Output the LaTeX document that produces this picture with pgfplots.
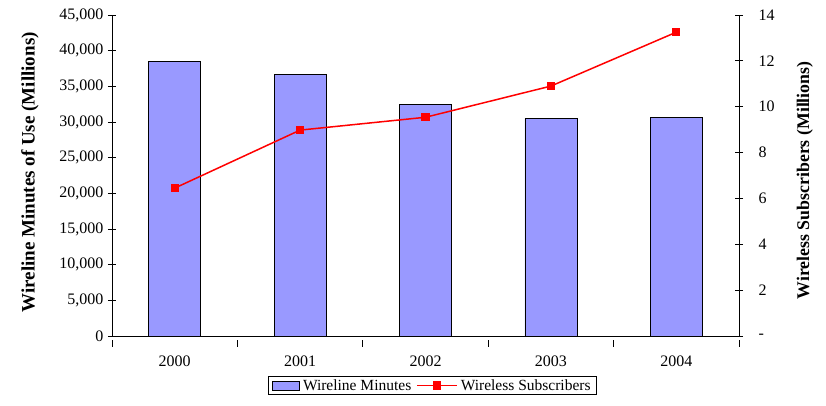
\documentclass[border=0pt]{standalone}
\usepackage{fontspec}
\setmainfont{Liberation Serif}
\usepackage{pgfplots}
\pgfplotsset{compat=1.18}
\definecolor{barblue}{HTML}{9999FF}
\definecolor{linered}{HTML}{FF0000}

\newcommand{\tickfont}{\fontsize{16}{18}\selectfont}
\newcommand{\legendfont}{\fontsize{15.5}{18}\selectfont}

% Legend symbols: a wide bar patch and a line with a centred marker
\pgfplotsset{
  barlegend/.style={legend image code/.code={
    \draw[fill=barblue, draw=black, line width=0.8pt] (0pt,-4.5pt) rectangle (27pt,4.5pt);}},
  linelegend/.style={legend image code/.code={
    \draw[##1, mark repeat=2, mark phase=2] plot coordinates {(0pt,0pt) (20pt,0pt) (40pt,0pt)};}},
}

\begin{document}
\begin{tikzpicture}
\useasboundingbox (-112pt,-69pt) rectangle (714pt,336pt);

% Wireline minutes of use (bars, left axis)
\begin{axis}[
  at={(0pt,0pt)}, anchor=south west,
  scale only axis, width=627pt, height=321pt,
  xmin=-0.5, xmax=4.5, ymin=0, ymax=45000,
  axis x line*=bottom, axis y line*=left,
  axis line style={black, line width=0.8pt},
  tick align=center,
  xtick={0,...,4}, xticklabels={2000,2001,2002,2003,2004},
  major x tick style={draw=none},
  minor xtick={-0.5,0.5,...,4.5},
  minor tick length=7pt,
  minor x tick style={black, line width=0.8pt, yshift=-3.5pt},
  major tick length=8pt,
  ytick={0,5000,...,45000},
  major y tick style={black, line width=0.8pt},
  scaled y ticks=false,
  /pgf/number format/.cd, 1000 sep={,}, assume math mode=true,
  /pgfplots/.cd,
  tick label style={font=\tickfont},
  x tick label style={yshift=-8pt},
  y tick label style={xshift=-1pt},
  ylabel={Wireline Minutes of Use (Millions)},
  ylabel style={font=\fontsize{19}{21}\selectfont\bfseries,
    at={(axis description cs:-0.131,0.51)}, anchor=center},
  ybar, bar width=52pt,
]
\addplot[fill=barblue, draw=black, line width=0.8pt] coordinates {
  (0,38450) (1,36630) (2,32420) (3,30460) (4,30600)
};
\end{axis}

% Wireless subscribers (line, right axis)
\begin{axis}[
  at={(0pt,0pt)}, anchor=south west,
  scale only axis, width=627pt, height=321pt,
  xmin=-0.5, xmax=4.5, ymin=0, ymax=14,
  axis x line=none, axis y line*=right,
  axis line style={black, line width=0.8pt},
  tick align=center,
  major tick length=8pt,
  ytick={0,2,...,14}, yticklabels={-,2,4,6,8,10,12,14},
  major y tick style={black, line width=0.8pt},
  /pgf/number format/assume math mode=true,
  tick label style={font=\tickfont},
  y tick label style={xshift=12pt},
  ylabel={Wireless Subscribers (Millions)},
  ylabel style={font=\fontsize{17.8}{20}\selectfont\bfseries,
    at={(axis description cs:1.105,0.485)}, anchor=center, rotate=0},
  legend columns=2,
  legend style={
    at={(axis description cs:0.511,-0.1246)}, anchor=north,
    draw=black, fill=white, line width=0.6pt,
    font=\legendfont, inner xsep=4pt, inner ysep=1pt,
    nodes={inner xsep=2pt},
    /tikz/every even column/.append style={column sep=3pt},
    /tikz/every odd column/.append style={column sep=1pt},
  },
]
\addlegendimage{barlegend}
\addlegendentry{Wireline Minutes}
\addplot[linered, line width=1.5pt, mark=square*, mark size=3.4pt, mark options={solid}, linelegend]
  coordinates {(0,6.45) (1,8.98) (2,9.54) (3,10.90) (4,13.25)};
\addlegendentry{Wireless Subscribers}
\end{axis}
\end{tikzpicture}
\end{document}
